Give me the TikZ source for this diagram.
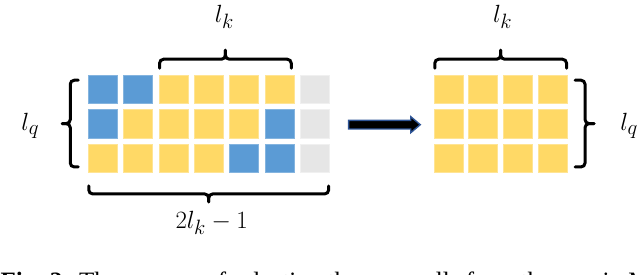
\documentclass[tikz,border=0pt]{standalone}
\usepackage{fontspec}
\newfontfamily\capfont{Liberation Serif}
\usetikzlibrary{calc}
\definecolor{cblue}{HTML}{5B9BD5}
\definecolor{cyellow}{HTML}{FFD966}
\definecolor{cgray}{HTML}{E6E6E6}
\definecolor{arrblue}{HTML}{2F5597}
\tikzset{
  cell/.style={rectangle, minimum width=29pt, minimum height=28.5pt, inner sep=0pt, outer sep=0pt, line width=1pt},
  B/.style={cell, fill=cblue, draw=cblue!75!white},
  Y/.style={cell, fill=cyellow, draw=cyellow!70!white},
  G/.style={cell, fill=cgray, draw=cgray!60!white},
  brc/.style={draw=black, line width=3pt, rounded corners=4pt, line cap=round},
  lbl/.style={inner sep=0pt, font=\fontsize{24.88}{30}\selectfont},
  blockarrow/.style={fill=black, draw=arrblue, line width=1.4pt, line join=miter}
}
\begin{document}
\begin{tikzpicture}[x=1pt,y=-1pt]
\fill[white] (0,0) rectangle (640,275);
\useasboundingbox (0,0) rectangle (640,275);
\clip (0,0) rectangle (640,275);
% left grid
\foreach \row/\cols [count=\r] in {1/{B,B,Y,Y,Y,Y,G},2/{B,Y,Y,Y,Y,B,G},3/{Y,Y,Y,Y,B,B,G}}{
  \foreach \c [count=\k] in \cols {
    \node[\c] (L-\r-\k) at ({88+35.4*(\k-1)+14.75},{75+34.6*(\r-1)+14.5}) {};
  }
}
% right grid
\foreach \r in {1,2,3}{
  \foreach \k in {1,2,3,4}{
    \node[Y] (R-\r-\k) at ({434+34.6*(\k-1)+14.75},{75+34.6*(\r-1)+14.5}) {};
  }
}
% top-left brace
\coordinate (tl1) at ($(L-1-3.north west)+(0.5,-7)$);
\coordinate (tl2) at ($(L-1-6.north east)+(-3,-7)$);
\coordinate (tltip) at ($(tl1)!0.5!(tl2)+(0,-18)$);
\draw[brc] (tl1) -- ++(0,-9) -| (tltip);
\draw[brc] (tl2) -- ++(0,-9) -| (tltip);
\node[lbl] (lkL) at ($(tltip)+(-1,-33)$) {$l_k$};
% left brace
\coordinate (lq1) at ($(L-1-1.north west)+(-10,5)$);
\coordinate (lq2) at ($(L-3-1.south west)+(-10,-6)$);
\coordinate (lqtip) at ($(lq1)!0.5!(lq2)+(-16,0)$);
\draw[brc] (lq1) -- ++(-8,0) |- (lqtip);
\draw[brc] (lq2) -- ++(-8,0) |- (lqtip);
\node[lbl] (lqL) at ($(lqtip)+(-32,2)$) {$l_q$};
% bottom brace
\coordinate (b1) at ($(L-3-1.south west)+(0.5,13)$);
\coordinate (b2) at ($(L-3-7.south east)+(-1,13)$);
\coordinate (btip) at ($(b1)!0.5!(b2)+(0,16)$);
\draw[brc] (b1) -- ++(0,8) -| (btip);
\draw[brc] (b2) -- ++(0,8) -| (btip);
\node[lbl] (twolk) at ($(btip)+(3,21)$) {$2l_k-1$};
% top-right brace
\coordinate (tr1) at ($(R-1-1.north west)+(0.5,-7)$);
\coordinate (tr2) at ($(R-1-4.north east)+(-0.5,-7)$);
\coordinate (trtip) at ($(tr1)!0.5!(tr2)+(0,-18)$);
\draw[brc] (tr1) -- ++(0,-9) -| (trtip);
\draw[brc] (tr2) -- ++(0,-9) -| (trtip);
\node[lbl] (lkR) at ($(trtip)+(2,-33)$) {$l_k$};
% right brace
\coordinate (rq1) at ($(R-1-4.north east)+(8,5)$);
\coordinate (rq2) at ($(R-3-4.south east)+(8,-6)$);
\coordinate (rqtip) at ($(rq1)!0.5!(rq2)+(19,0)$);
\draw[brc] (rq1) -- ++(10,0) |- (rqtip);
\draw[brc] (rq2) -- ++(10,0) |- (rqtip);
\node[lbl] (lqR) at ($(rqtip)+(35,2)$) {$l_q$};
% block arrow
\coordinate (arrS) at ($(L-2-7.east)+(19,0.6)$);
\coordinate (arrE) at ($(R-2-1.west)+(-14,0.6)$);
\draw[blockarrow] ($(arrS)+(0,-4.3)$) -- ($(arrE)+(-9.5,-4.3)$) -- ($(arrE)+(-9.5,-8)$) -- (arrE)
  -- ($(arrE)+(-9.5,8)$) -- ($(arrE)+(-9.5,4.3)$) -- ($(arrS)+(0,4.3)$) -- cycle;
% caption (cut off by the frame, as in the reference)
\node[anchor=base west, inner sep=0pt, font=\capfont\fontsize{25}{30}\selectfont] (cap) at (0.5,289)
  {\textbf{Fig. 2:} The process of selecting the zero cells from the row in M};
\end{tikzpicture}
\end{document}
